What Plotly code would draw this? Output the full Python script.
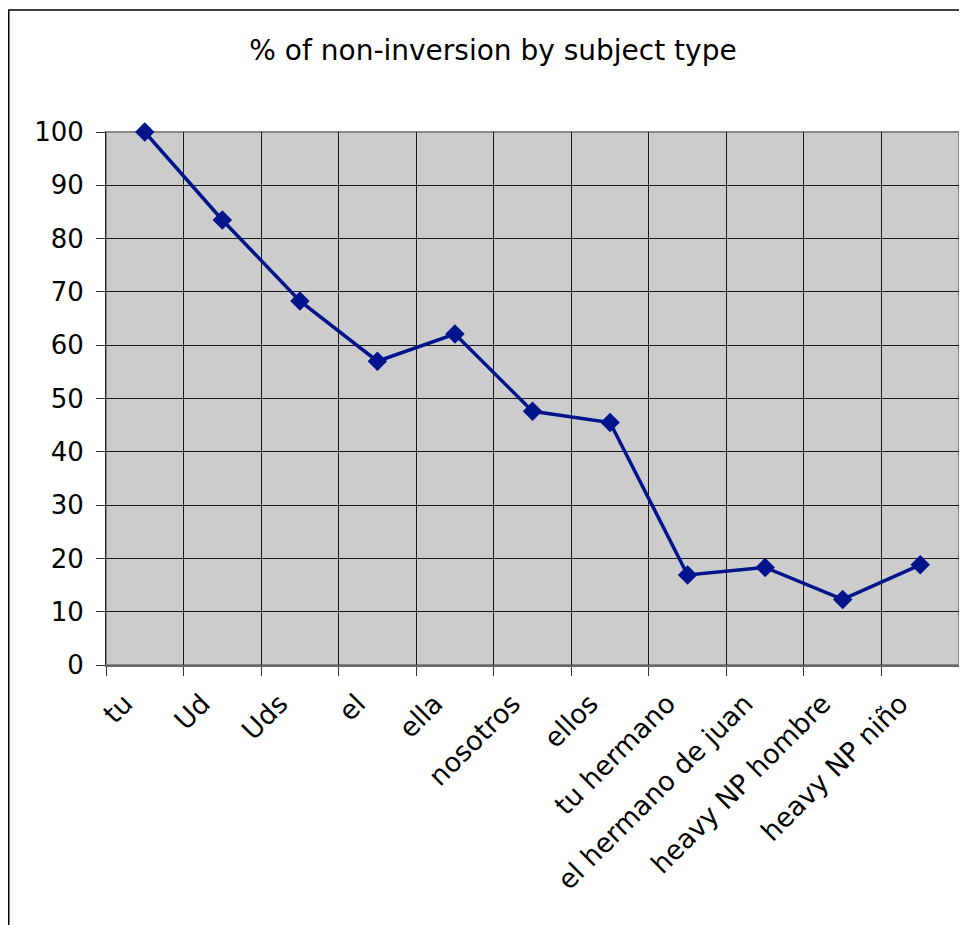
import plotly.graph_objects as go

categories = ["tu", "Ud", "Uds", "el", "ella", "nosotros", "ellos", "tu hermano",
              "el hermano de juan", "heavy NP hombre", "heavy NP niño"]
values = [100, 83.5, 68.3, 57.0, 62.1, 47.6, 45.5, 16.9, 18.3, 12.3, 18.8]
y_ticks = [0, 10, 20, 30, 40, 50, 60, 70, 80, 90, 100]

FONT = "DejaVu Sans"
OFF = 8  # browser body margin offset

fig = go.Figure()
fig.add_trace(go.Scatter(
    x=categories, y=values, mode="lines+markers",
    line=dict(color="#00148C", width=3.5),
    marker=dict(symbol="diamond", size=15, color="#00148C"),
    showlegend=False, cliponaxis=False,
))

W, H = 967, 925
L, R, T, B = 106 - OFF, 959 - OFF, 132 - OFF, 665 - OFF
PW, PH = R - L, B - T
fig.update_layout(
    width=W, height=H,
    margin=dict(l=L, r=W - R, t=T, b=H - B),
    paper_bgcolor="white", plot_bgcolor="#CCCCCC",
    font=dict(family=FONT, color="black"),
    title=dict(text="% of non-inversion by subject type", font=dict(size=28, family=FONT, color="black"),
               x=(493 - OFF) / W, xanchor="center", y=1 - (50 - OFF) / H, yanchor="middle",
               xref="container", yref="container"),
    xaxis=dict(type="category", range=[-0.5, len(categories) - 0.5], tickson="boundaries",
               showgrid=True, gridcolor="#1a1a1a", gridwidth=1,
               ticks="outside", ticklen=9, tickcolor="#333333", tickangle=-45, automargin=False,
               tickfont=dict(size=27, family=FONT, color="black"), ticklabelstandoff=10,
               ticklabelshift=-20,
               showline=True, linecolor="#666666", linewidth=2, mirror=False, zeroline=False),
    yaxis=dict(range=[0, 100], tickvals=y_ticks, showgrid=True, gridcolor="#1a1a1a", gridwidth=1,
               ticks="outside", ticklen=9, tickcolor="#333333", automargin=False,
               tickfont=dict(size=26, family=FONT, color="black"), ticklabelstandoff=7,
               showline=True, linecolor="#222222", linewidth=1, zeroline=False),
)
# plot-area border (gray)
fig.add_shape(type="rect", xref="paper", yref="paper", x0=0, x1=1, y0=0, y1=1,
              line=dict(color="#888888", width=2), layer="below")
# outer chart border (extends past the cropped image)
fig.add_shape(type="rect", xref="paper", yref="paper",
              x0=-(L - 0.75) / PW, x1=1.2, y0=-0.6, y1=1 + (T - 2) / PH,
              line=dict(color="black", width=1.5), layer="above")

fig.write_html("out.html")
